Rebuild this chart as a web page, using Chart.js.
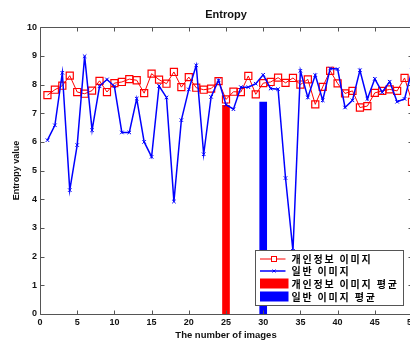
<!DOCTYPE html>
<html>
<head>
<meta charset="utf-8">
<script src="https://cdn.jsdelivr.net/npm/chart.js@4.4.0/dist/chart.umd.min.js"></script>
<style>
  body { margin: 0; background: #fff; overflow: hidden; }
  canvas { display: block; }
</style>
</head>
<body>
<canvas id="entropyChart" width="414" height="342"></canvas>
<script>
// image index on the x axis
const imageNumbers = [1, 2, 3, 4, 5, 6, 7, 8, 9, 10,
  11, 12, 13, 14, 15, 16, 17, 18, 19, 20,
  21, 22, 23, 24, 25, 26, 27, 28, 29, 30,
  31, 32, 33, 34, 35, 36, 37, 38, 39, 40,
  41, 42, 43, 44, 45, 46, 47, 48, 49, 50];

// 개인정보 이미지 entropy
const privateEntropy = [7.63, 7.82, 7.96, 8.31, 7.74, 7.68, 7.79, 8.13, 7.74, 8.05,
  8.09, 8.19, 8.15, 7.70, 8.38, 8.17, 8.03, 8.44, 7.91, 8.26,
  7.89, 7.82, 7.86, 8.12, 7.48, 7.75, 7.74, 8.30, 7.66, 8.05,
  8.09, 8.24, 8.06, 8.23, 8.00, 8.18, 7.31, 7.92, 8.48, 8.04,
  7.69, 7.78, 7.20, 7.25, 7.71, 7.78, 7.83, 7.78, 8.23, 7.40];

// 일반 이미지 entropy
const normalEntropy = [6.06, 6.58, 8.41, 4.32, 5.89, 8.99, 6.41, 7.94, 8.18, 7.94,
  6.33, 6.33, 7.51, 6.00, 5.48, 7.95, 7.55, 3.92, 6.76, 7.83,
  8.67, 5.57, 7.57, 8.15, 7.30, 7.14, 7.91, 7.91, 8.03, 8.34,
  7.86, 7.84, 4.74, 2.20, 8.48, 7.55, 8.33, 7.45, 8.56, 8.54,
  7.20, 7.45, 8.50, 7.50, 8.20, 7.73, 8.10, 7.40, 7.50, 8.50];

// mean bars: where they sit and how tall
const meanLabels = ['개인정보 이미지 평균', '일반 이미지 평균'];
const meanPositions = [25, 30];
const meanValues = [7.28, 7.39];

const seriesLabels = ['개인정보 이미지', '일반 이미지'];
const xTicks = [0, 5, 10, 15, 20, 25, 30, 35, 40, 45, 50];
const yTicks = [0, 1, 2, 3, 4, 5, 6, 7, 8, 9, 10];

const RED = '#ff0000';
const BLUE = '#0000ff';
const AXIS = '#555555';
const FONT = '"Liberation Sans", Arial, sans-serif';

const toPoints = (xs, ys) => xs.map((x, i) => ({ x: x, y: ys[i] }));

// matlab-ish box with inward ticks on every side
const axesBox = {
  id: 'axesBox',
  afterDatasetsDraw(chart) {
    const { ctx, chartArea: a, scales } = chart;
    const L = Math.round(a.left) + 0.5, R = Math.round(a.right) + 0.5;
    const T = Math.round(a.top) + 0.5, B = Math.round(a.bottom) + 0.5;
    ctx.save();
    ctx.strokeStyle = AXIS;
    ctx.lineWidth = 1;
    ctx.beginPath();
    ctx.rect(L, T, R - L, B - T);
    xTicks.forEach(v => {
      const px = Math.round(scales.x.getPixelForValue(v)) + 0.5;
      ctx.moveTo(px, B); ctx.lineTo(px, B - 4);
      ctx.moveTo(px, T); ctx.lineTo(px, T + 4);
    });
    yTicks.forEach(v => {
      const py = Math.round(scales.y.getPixelForValue(v)) + 0.5;
      ctx.moveTo(L, py); ctx.lineTo(L + 4, py);
      ctx.moveTo(R, py); ctx.lineTo(R - 4, py);
    });
    ctx.stroke();
    ctx.restore();
  }
};

// legend box in the lower right corner of the plot
const legendBox = {
  id: 'legendBox',
  afterDraw(chart) {
    const { ctx, chartArea: a } = chart;
    const x0 = Math.round(a.right) - 156.5;
    const y0 = Math.round(a.bottom) - 63.5;
    const w = 148, h = 55;
    ctx.save();
    ctx.fillStyle = '#fff';
    ctx.fillRect(x0, y0, w, h);
    ctx.strokeStyle = AXIS;
    ctx.lineWidth = 1;
    ctx.strokeRect(x0, y0, w, h);

    const rows = [y0 + 8.5, y0 + 20.5, y0 + 33, y0 + 46];
    const sx = x0 + 4.5, ex = x0 + 30, mx = x0 + 18.5;

    // red line + square
    ctx.strokeStyle = RED;
    ctx.lineWidth = 1;
    ctx.beginPath(); ctx.moveTo(sx, rows[0]); ctx.lineTo(ex, rows[0]); ctx.stroke();
    ctx.fillStyle = '#fff';
    ctx.fillRect(mx - 2.5, rows[0] - 2.5, 5, 5);
    ctx.strokeRect(mx - 2.5, rows[0] - 2.5, 5, 5);

    // blue line + x
    ctx.strokeStyle = BLUE;
    ctx.lineWidth = 1.5;
    ctx.beginPath(); ctx.moveTo(sx, rows[1]); ctx.lineTo(ex, rows[1]); ctx.stroke();
    ctx.lineWidth = 1;
    ctx.beginPath();
    ctx.moveTo(mx - 1.5, rows[1] - 1.5); ctx.lineTo(mx + 1.5, rows[1] + 1.5);
    ctx.moveTo(mx + 1.5, rows[1] - 1.5); ctx.lineTo(mx - 1.5, rows[1] + 1.5);
    ctx.stroke();

    // mean bars
    ctx.fillStyle = RED;
    ctx.fillRect(sx, rows[2] - 5, 28.5, 10);
    ctx.fillStyle = BLUE;
    ctx.fillRect(sx, rows[3] - 5, 28.5, 10);

    ctx.fillStyle = '#000';
    ctx.font = 'bold 10px "Noto Sans CJK KR", sans-serif';
    ctx.letterSpacing = '1.8px';
    ctx.textBaseline = 'middle';
    const names = [seriesLabels[0], seriesLabels[1], meanLabels[0], meanLabels[1]];
    names.forEach((t, i) => ctx.fillText(t, x0 + 36, rows[i] + 0.5));
    ctx.restore();
  }
};

const ctx = document.getElementById('entropyChart').getContext('2d');

new Chart(ctx, {
  type: 'line',
  data: {
    datasets: [
      {
        label: seriesLabels[0],
        data: toPoints(imageNumbers, privateEntropy),
        borderColor: RED,
        borderWidth: 1,
        pointStyle: 'rect',
        pointRadius: 5,
        pointBorderWidth: 1.2,
        pointBorderColor: RED,
        pointBackgroundColor: 'rgba(0,0,0,0)',
        tension: 0,
        order: 2
      },
      {
        label: seriesLabels[1],
        data: toPoints(imageNumbers, normalEntropy),
        borderColor: BLUE,
        borderWidth: 1.5,
        pointStyle: 'crossRot',
        pointRadius: 2.5,
        pointBorderWidth: 1,
        pointBorderColor: BLUE,
        tension: 0,
        order: 1
      },
      {
        type: 'bar',
        label: meanLabels[0],
        data: [{ x: meanPositions[0], y: meanValues[0] }],
        backgroundColor: RED,
        barThickness: 7,
        grouped: false,
        order: 3
      },
      {
        type: 'bar',
        label: meanLabels[1],
        data: [{ x: meanPositions[1], y: meanValues[1] }],
        backgroundColor: BLUE,
        barThickness: 7,
        grouped: false,
        order: 3
      }
    ]
  },
  options: {
    responsive: false,
    animation: false,
    layout: { autoPadding: false, padding: { top: 0, left: 0, right: 2, bottom: 0 } },
    plugins: {
      legend: { display: false },
      tooltip: { enabled: false },
      title: {
        display: true,
        text: 'Entropy',
        fullSize: false,
        color: '#111',
        font: { family: FONT, size: 11, weight: 'bold' },
        padding: { top: 8, bottom: 6 }
      }
    },
    scales: {
      x: {
        type: 'linear',
        min: 0,
        max: 50,
        offset: false,
        grid: { display: false, drawTicks: false },
        border: { display: false },
        ticks: {
          stepSize: 5,
          maxRotation: 0,
          autoSkip: false,
          padding: 3,
          color: '#111',
          font: { family: FONT, size: 9, weight: 'bold' }
        },
        title: {
          display: true,
          text: 'The number of images',
          color: '#111',
          font: { family: FONT, size: 9.5, weight: 'bold' },
          padding: { top: 0, bottom: 1 }
        },
        afterFit(scale) {
          scale.paddingLeft = 0;
          scale.paddingRight = 0;
          scale.height = 28;
        }
      },
      y: {
        min: 0,
        max: 10,
        grid: { display: false, drawTicks: false },
        border: { display: false },
        ticks: {
          stepSize: 1,
          padding: 3,
          color: '#111',
          font: { family: FONT, size: 9, weight: 'bold' }
        },
        title: {
          display: true,
          text: 'Entropy value',
          color: '#111',
          font: { family: FONT, size: 9, weight: 'bold' },
          padding: { top: 11, bottom: 0 }
        },
        afterFit(scale) {
          scale.paddingTop = 0;
          scale.paddingBottom = 0;
          scale.width = 40;
        }
      }
    }
  },
  plugins: [axesBox, legendBox]
});
</script>
</body>
</html>
